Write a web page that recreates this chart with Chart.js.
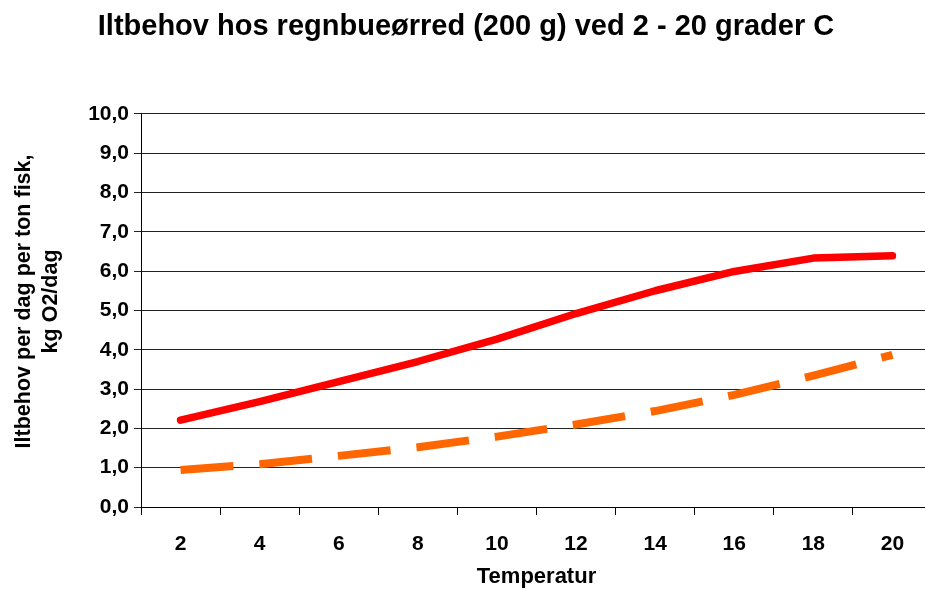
<!DOCTYPE html>
<html>
<head>
<meta charset="utf-8">
<script src="https://cdn.jsdelivr.net/npm/chart.js@4.4.1/dist/chart.umd.min.js"></script>
<style>
  html, body { margin: 0; padding: 0; background: #fff; overflow: hidden; }
  #wrap { width: 935px; height: 590px; position: relative; }
</style>
</head>
<body>
<div id="wrap"><canvas id="ctx"></canvas></div>
<script>
// temperatures (grader C)
const temps = ['2', '4', '6', '8', '10', '12', '14', '16', '18', '20'];
// kg O2 per dag per ton fisk
const iltHoj = [2.21, 2.68, 3.19, 3.70, 4.27, 4.92, 5.50, 5.99, 6.33, 6.39];
const iltLav = [0.94, 1.09, 1.30, 1.52, 1.79, 2.10, 2.44, 2.85, 3.34, 3.87];
const yTickLabels = ['0,0', '1,0', '2,0', '3,0', '4,0', '5,0', '6,0', '7,0', '8,0', '9,0', '10,0'];

const fam = '"Liberation Sans", Arial, sans-serif';

let ctx = document.getElementById('ctx');

const chart = new Chart(ctx, {
  type: 'line',
  data: {
    labels: temps,
    datasets: [
      {
        label: 'Iltbehov (høj)',
        data: iltHoj,
        borderColor: '#FF0000',
        borderWidth: 7.5,
        borderCapStyle: 'round',
        borderJoinStyle: 'round',
        pointRadius: 0,
        tension: 0
      },
      {
        label: 'Iltbehov (lav)',
        data: iltLav,
        borderColor: '#FF6600',
        borderWidth: 8,
        borderDash: [53, 26],
        borderCapStyle: 'butt',
        pointRadius: 0,
        tension: 0
      }
    ]
  },
  options: {
    responsive: true,
    maintainAspectRatio: false,
    animation: false,
    layout: { padding: { left: 0, right: 3, top: 0, bottom: 0 } },
    plugins: {
      legend: { display: false },
      tooltip: { enabled: false },
      title: {
        display: true,
        text: 'Iltbehov hos regnbueørred (200 g) ved 2 - 20 grader C',
        color: '#000',
        font: { family: fam, size: 29, weight: 'bold', lineHeight: 1.2 },
        padding: { top: 10, bottom: 69 }
      }
    },
    scales: {
      x: {
        offset: true,
        grid: {
          offset: true,
          drawOnChartArea: false,
          drawTicks: true,
          tickLength: 8,
          color: '#000'
        },
        border: { color: '#000', width: 1 },
        ticks: {
          color: '#000',
          padding: 17,
          maxRotation: 0,
          font: { family: fam, size: 21, weight: 'bold' }
        },
        title: {
          display: true,
          text: 'Temperatur',
          color: '#000',
          font: { family: fam, size: 22, weight: 'bold', lineHeight: 1.2 },
          padding: { top: 0, bottom: 0 }
        },
        afterFit: function (scale) { scale.height = 83; }
      },
      y: {
        min: 0,
        max: 10,
        grid: {
          color: '#222',
          lineWidth: 1,
          drawTicks: true,
          tickLength: 7
        },
        border: { color: '#000', width: 1 },
        ticks: {
          stepSize: 1,
          color: '#000',
          padding: 5,
          font: { family: fam, size: 21, weight: 'bold' },
          callback: function (v) { return yTickLabels[v]; }
        },
        title: {
          display: true,
          // leading spaces nudge the rotated text up a little, like the original
          text: ['   Iltbehov per dag per ton fisk,', '   kg O2/dag'],
          color: '#000',
          font: { family: fam, size: 21.5, weight: 'bold', lineHeight: 1.25 },
          padding: { top: 11, bottom: 0 }
        },
        afterFit: function (scale) { scale.width = 141; }
      }
    }
  }
});
</script>
</body>
</html>
